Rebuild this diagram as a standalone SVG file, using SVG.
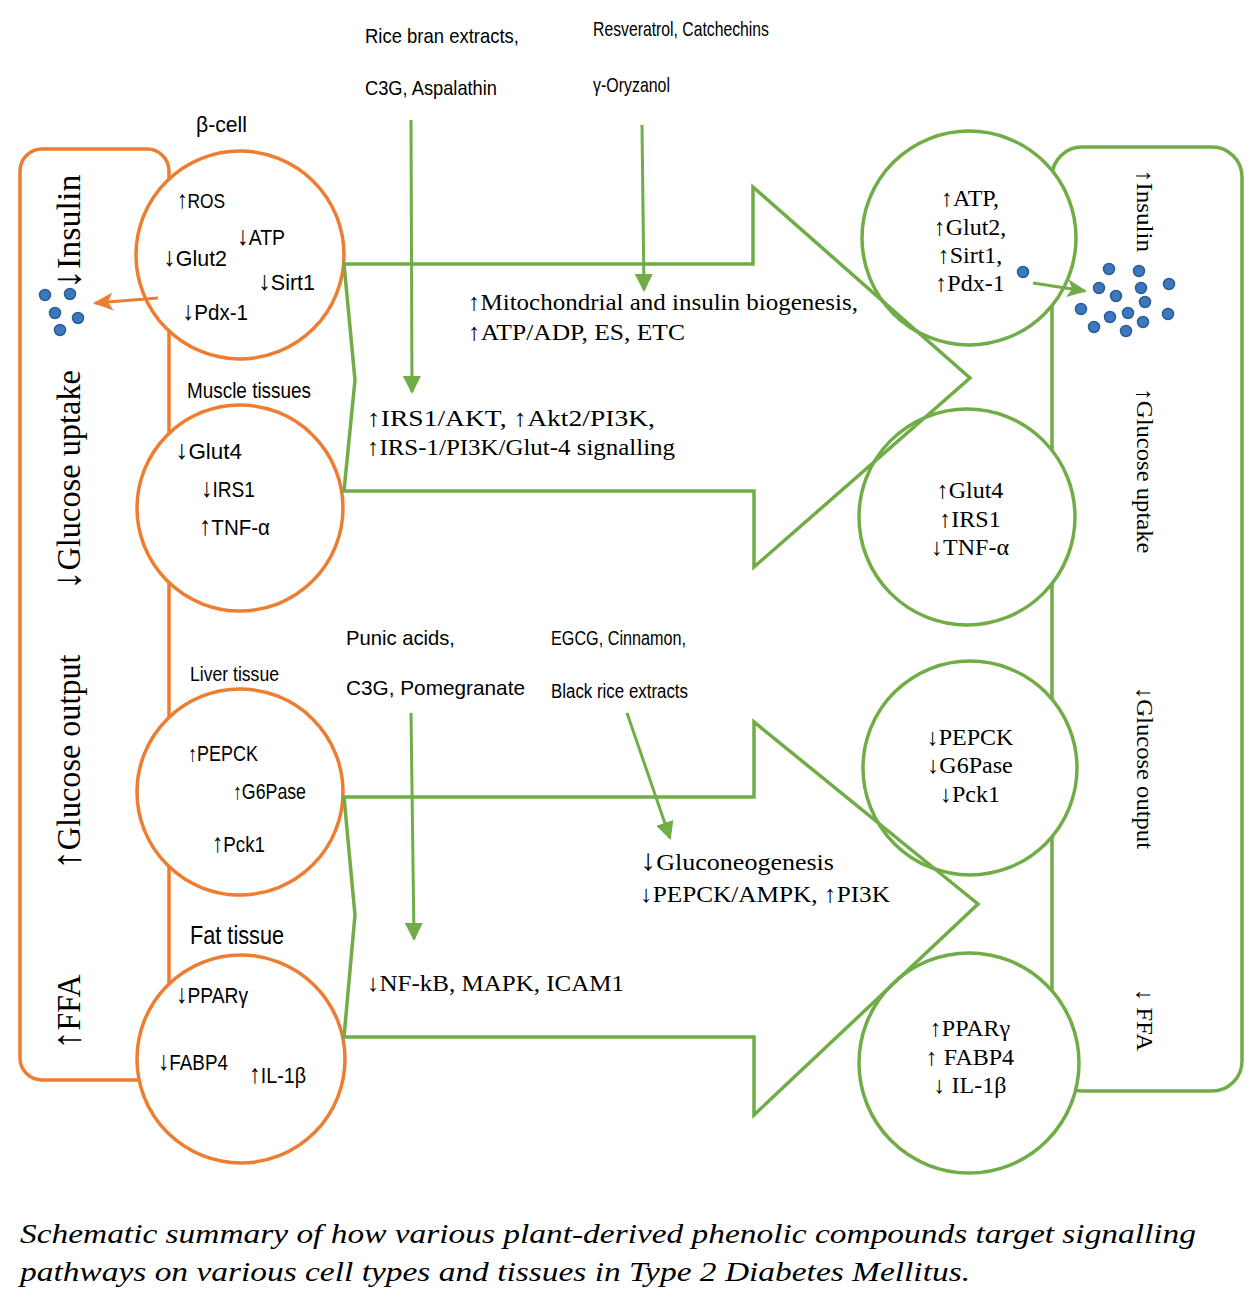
<svg xmlns="http://www.w3.org/2000/svg" width="1259" height="1301" viewBox="0 0 1259 1301">
<style>
.bg{fill:#ffffff}
.or{fill:none;stroke:#ED7D31;stroke-width:3.5}
.orc{fill:#ffffff;stroke:#ED7D31;stroke-width:3.5}
.gr{fill:none;stroke:#70AD47;stroke-width:3.5}
.grc{fill:#ffffff;stroke:#70AD47;stroke-width:3.5}
.gl{fill:none;stroke:#70AD47;stroke-width:3}
.ol{fill:none;stroke:#ED7D31;stroke-width:3}
.sans{font-family:"Liberation Sans","Arial",sans-serif;fill:#000}
.serif{font-family:"Liberation Serif","Times New Roman","Tinos","Nimbus Roman","Noto Serif",serif;fill:#000}
.ar{font-size:1.2em}
.dot{fill:#3B78BE;stroke:#2B5D93;stroke-width:1.5}
</style>
<defs>
<marker id="ga" viewBox="0 0 18 18" refX="16" refY="9" markerWidth="18" markerHeight="18" orient="auto" markerUnits="userSpaceOnUse"><path d="M0,0 L18,9 L0,18 z" fill="#70AD47"/></marker>
<marker id="oa" viewBox="0 0 20 18" refX="18" refY="9" markerWidth="20" markerHeight="18" orient="auto" markerUnits="userSpaceOnUse"><path d="M0,0 L20,9 L0,18 L5,9 z" fill="#ED7D31"/></marker>
<marker id="ga2" viewBox="0 0 20 18" refX="18" refY="9" markerWidth="20" markerHeight="18" orient="auto" markerUnits="userSpaceOnUse"><path d="M0,0 L20,9 L0,18 L5,9 z" fill="#70AD47"/></marker>
</defs>
<rect class="bg" x="0" y="0" width="1259" height="1301"/>

<!-- side boxes -->
<g id="left-box">
<rect class="or" x="20" y="149" width="149" height="931" rx="22" ry="22"/>
<text class="serif" font-size="33" text-anchor="middle" textLength="115" lengthAdjust="spacingAndGlyphs" transform="translate(80,232) rotate(-90)"><tspan class="ar">↓</tspan>Insulin</text>
<text class="serif" font-size="33" text-anchor="middle" textLength="220" lengthAdjust="spacingAndGlyphs" transform="translate(80,480) rotate(-90)"><tspan class="ar">↓</tspan>Glucose uptake</text>
<text class="serif" font-size="33" text-anchor="middle" textLength="215" lengthAdjust="spacingAndGlyphs" transform="translate(80,762) rotate(-90)"><tspan class="ar">↑</tspan>Glucose output</text>
<text class="serif" font-size="33" text-anchor="middle" textLength="75" lengthAdjust="spacingAndGlyphs" transform="translate(80,1012) rotate(-90)"><tspan class="ar">↑</tspan>FFA</text>
</g>
<g id="right-box">
<rect class="gr" x="1052" y="147" width="190" height="944" rx="30" ry="30"/>
<text class="serif" font-size="24" text-anchor="middle" textLength="82" lengthAdjust="spacingAndGlyphs" transform="translate(1137,211) rotate(90)">↑Insulin</text>
<text class="serif" font-size="24" text-anchor="middle" textLength="165" lengthAdjust="spacingAndGlyphs" transform="translate(1137,471) rotate(90)">↑Glucose uptake</text>
<text class="serif" font-size="24" text-anchor="middle" textLength="162" lengthAdjust="spacingAndGlyphs" transform="translate(1137,768) rotate(90)">↓Glucose output</text>
<text class="serif" font-size="24" text-anchor="middle" textLength="62" lengthAdjust="spacingAndGlyphs" transform="translate(1137,1020) rotate(90)">↓ FFA</text>
</g>

<!-- left circles -->
<g id="beta-cell">
<text class="sans" font-size="22" x="196" y="132" textLength="51" lengthAdjust="spacingAndGlyphs">β-cell</text>
<circle class="orc" cx="240" cy="255" r="104"/>
<text class="sans" font-size="21" x="177" y="208" textLength="48" lengthAdjust="spacingAndGlyphs"><tspan class="ar">↑</tspan>ROS</text>
<text class="sans" font-size="22" x="237" y="245" textLength="48" lengthAdjust="spacingAndGlyphs"><tspan class="ar">↓</tspan>ATP</text>
<text class="sans" font-size="22" x="163" y="266" textLength="64" lengthAdjust="spacingAndGlyphs"><tspan class="ar">↓</tspan>Glut2</text>
<text class="sans" font-size="22" x="258" y="290" textLength="57" lengthAdjust="spacingAndGlyphs"><tspan class="ar">↓</tspan>Sirt1</text>
<text class="sans" font-size="22" x="182" y="320" textLength="66" lengthAdjust="spacingAndGlyphs"><tspan class="ar">↓</tspan>Pdx-1</text>
</g>
<g id="muscle">
<text class="sans" font-size="22" x="187" y="398" textLength="124" lengthAdjust="spacingAndGlyphs">Muscle tissues</text>
<circle class="orc" cx="240" cy="508" r="103"/>
<text class="sans" font-size="22" x="175" y="459" textLength="67" lengthAdjust="spacingAndGlyphs"><tspan class="ar">↓</tspan>Glut4</text>
<text class="sans" font-size="22" x="201" y="497" textLength="54" lengthAdjust="spacingAndGlyphs"><tspan class="ar">↓</tspan>IRS1</text>
<text class="sans" font-size="22" x="199" y="535" textLength="71" lengthAdjust="spacingAndGlyphs"><tspan class="ar">↑</tspan>TNF-α</text>
</g>
<g id="liver">
<text class="sans" font-size="21" x="190" y="681" textLength="89" lengthAdjust="spacingAndGlyphs">Liver tissue</text>
<circle class="orc" cx="240" cy="792" r="103"/>
<text class="sans" font-size="22" x="188" y="761" textLength="70" lengthAdjust="spacingAndGlyphs">↑PEPCK</text>
<text class="sans" font-size="22" x="233" y="799" textLength="73" lengthAdjust="spacingAndGlyphs">↑G6Pase</text>
<text class="sans" font-size="22" x="212" y="852" textLength="53" lengthAdjust="spacingAndGlyphs"><tspan class="ar">↑</tspan>Pck1</text>
</g>
<g id="fat">
<text class="sans" font-size="25" x="190" y="944" textLength="94" lengthAdjust="spacingAndGlyphs">Fat tissue</text>
<circle class="orc" cx="241" cy="1059" r="104"/>
<text class="sans" font-size="22" x="176" y="1003" textLength="72" lengthAdjust="spacingAndGlyphs"><tspan class="ar">↓</tspan>PPARγ</text>
<text class="sans" font-size="22" x="158" y="1070" textLength="70" lengthAdjust="spacingAndGlyphs"><tspan class="ar">↓</tspan>FABP4</text>
<text class="sans" font-size="22" x="249" y="1083" textLength="57" lengthAdjust="spacingAndGlyphs"><tspan class="ar">↑</tspan>IL-1β</text>
</g>

<!-- right circles -->
<g id="beta-cell-treated">
<circle class="grc" cx="969" cy="238" r="107"/>
<text class="serif" font-size="24" text-anchor="middle" x="970" y="206">↑ATP,</text>
<text class="serif" font-size="24" text-anchor="middle" x="970" y="235">↑Glut2,</text>
<text class="serif" font-size="24" text-anchor="middle" x="970" y="263">↑Sirt1,</text>
<text class="serif" font-size="24" text-anchor="middle" x="970" y="291">↑Pdx-1</text>
</g>
<g id="muscle-treated">
<circle class="grc" cx="967" cy="517" r="108"/>
<text class="serif" font-size="24" text-anchor="middle" x="970" y="498">↑Glut4</text>
<text class="serif" font-size="24" text-anchor="middle" x="970" y="527">↑IRS1</text>
<text class="serif" font-size="24" text-anchor="middle" x="970" y="555">↓TNF-α</text>
</g>
<g id="liver-treated">
<circle class="grc" cx="970" cy="768" r="107"/>
<text class="serif" font-size="24" text-anchor="middle" x="970" y="745">↓PEPCK</text>
<text class="serif" font-size="24" text-anchor="middle" x="970" y="773">↓G6Pase</text>
<text class="serif" font-size="24" text-anchor="middle" x="970" y="802">↓Pck1</text>
</g>
<g id="fat-treated">
<circle class="grc" cx="969" cy="1063" r="110"/>
<text class="serif" font-size="24" text-anchor="middle" x="970" y="1036">↑PPARγ</text>
<text class="serif" font-size="24" text-anchor="middle" x="970" y="1065">↑ FABP4</text>
<text class="serif" font-size="24" text-anchor="middle" x="970" y="1093">↓ IL-1β</text>
</g>

<!-- insulin granules -->
<g id="granules-left">
<circle class="dot" cx="45" cy="295" r="5.5"/>
<circle class="dot" cx="70" cy="294" r="5.5"/>
<circle class="dot" cx="55" cy="313" r="5.5"/>
<circle class="dot" cx="78" cy="318" r="5.5"/>
<circle class="dot" cx="60" cy="330" r="5.5"/>
</g>
<g id="granules-right">
<circle class="dot" cx="1023" cy="272" r="5.5"/>
<circle class="dot" cx="1109" cy="269" r="5.5"/>
<circle class="dot" cx="1139" cy="271" r="5.5"/>
<circle class="dot" cx="1169" cy="284" r="5.5"/>
<circle class="dot" cx="1099" cy="288" r="5.5"/>
<circle class="dot" cx="1141" cy="288" r="5.5"/>
<circle class="dot" cx="1116" cy="296" r="5.5"/>
<circle class="dot" cx="1145" cy="302" r="5.5"/>
<circle class="dot" cx="1081" cy="309" r="5.5"/>
<circle class="dot" cx="1168" cy="314" r="5.5"/>
<circle class="dot" cx="1110" cy="317" r="5.5"/>
<circle class="dot" cx="1128" cy="313" r="5.5"/>
<circle class="dot" cx="1143" cy="322" r="5.5"/>
<circle class="dot" cx="1094" cy="327" r="5.5"/>
<circle class="dot" cx="1126" cy="331" r="5.5"/>
</g>

<!-- compound labels -->
<g id="compounds-top-1">
<text class="sans" font-size="21" x="365" y="43" textLength="154" lengthAdjust="spacingAndGlyphs">Rice bran extracts,</text>
<text class="sans" font-size="21" x="365" y="95" textLength="132" lengthAdjust="spacingAndGlyphs">C3G, Aspalathin</text>
</g>
<g id="compounds-top-2">
<text class="sans" font-size="21" x="593" y="36" textLength="176" lengthAdjust="spacingAndGlyphs">Resveratrol, Catchechins</text>
<text class="sans" font-size="21" x="593" y="92" textLength="77" lengthAdjust="spacingAndGlyphs">γ-Oryzanol</text>
</g>
<g id="compounds-bottom-1">
<text class="sans" font-size="21" x="346" y="645" textLength="109" lengthAdjust="spacingAndGlyphs">Punic acids,</text>
<text class="sans" font-size="21" x="346" y="695" textLength="179" lengthAdjust="spacingAndGlyphs">C3G, Pomegranate</text>
</g>
<g id="compounds-bottom-2">
<text class="sans" font-size="20" x="551" y="645" textLength="135" lengthAdjust="spacingAndGlyphs">EGCG, Cinnamon,</text>
<text class="sans" font-size="20" x="551" y="698" textLength="137" lengthAdjust="spacingAndGlyphs">Black rice extracts</text>
</g>

<!-- connectors -->
<g id="connectors">
<path class="gr" d="M344,264 L753,264 L753,187 L970,378 L754,567 L754,491 L344,491 L355,380 Z"/>
<path class="gr" d="M344,797 L754,797 L754,722 L978,904 L754,1115 L754,1037 L344,1037 L355,915 Z"/>
<line class="gl" x1="411" y1="120" x2="412" y2="392" marker-end="url(#ga)"/>
<line class="gl" x1="642" y1="125" x2="644" y2="290" marker-end="url(#ga)"/>
<line class="gl" x1="411" y1="713" x2="414" y2="939" marker-end="url(#ga)"/>
<line class="gl" x1="627" y1="713" x2="670" y2="838" marker-end="url(#ga)"/>
<line class="ol" x1="158" y1="298" x2="95" y2="303" marker-end="url(#oa)"/>
<line class="gl" x1="1033" y1="283" x2="1085" y2="291" marker-end="url(#ga2)"/>
</g>

<!-- pathway labels -->
<g id="pathway-top">
<text class="serif" font-size="24" x="468" y="310" textLength="390" lengthAdjust="spacingAndGlyphs">↑Mitochondrial and insulin biogenesis,</text>
<text class="serif" font-size="24" x="468" y="340" textLength="217" lengthAdjust="spacingAndGlyphs">↑ATP/ADP, ES, ETC</text>
<text class="serif" font-size="24" x="367" y="426" textLength="288" lengthAdjust="spacingAndGlyphs">↑IRS1/AKT, ↑Akt2/PI3K,</text>
<text class="serif" font-size="24" x="367" y="455" textLength="308" lengthAdjust="spacingAndGlyphs">↑IRS-1/PI3K/Glut-4 signalling</text>
</g>
<g id="pathway-bottom">
<text class="serif" font-size="24" x="640" y="870" textLength="194" lengthAdjust="spacingAndGlyphs"><tspan class="sans" font-size="30">↓</tspan>Gluconeogenesis</text>
<text class="serif" font-size="24" x="640" y="902" textLength="250" lengthAdjust="spacingAndGlyphs">↓PEPCK/AMPK, ↑PI3K</text>
<text class="serif" font-size="24" x="367" y="991" textLength="257" lengthAdjust="spacingAndGlyphs">↓NF-kB, MAPK, ICAM1</text>
</g>

<g id="caption">
<text class="serif" font-size="28" font-style="italic" x="20" y="1243" textLength="1176" lengthAdjust="spacingAndGlyphs">Schematic summary of how various plant-derived phenolic compounds target signalling</text>
<text class="serif" font-size="28" font-style="italic" x="20" y="1281" textLength="950" lengthAdjust="spacingAndGlyphs">pathways on various cell types and tissues in Type 2 Diabetes Mellitus.</text>
</g>
</svg>
